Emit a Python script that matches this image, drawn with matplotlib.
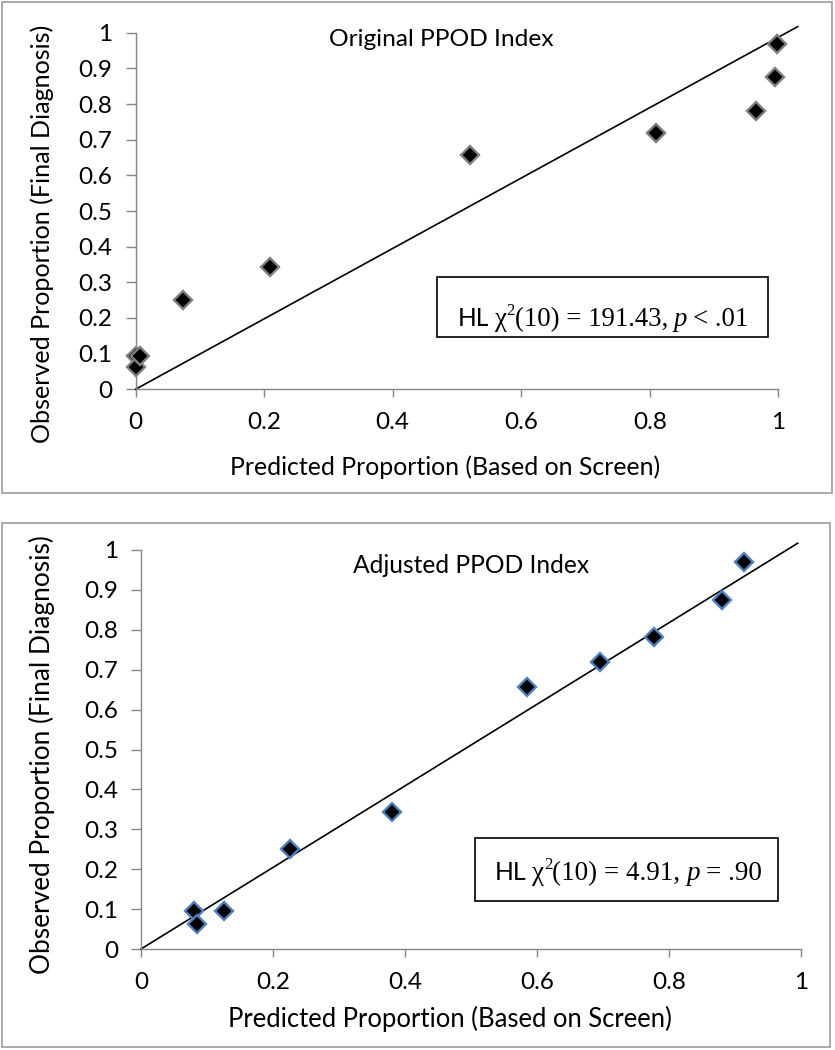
import matplotlib
matplotlib.use("Agg")
import matplotlib.pyplot as plt
from matplotlib.patches import Rectangle

# ---------------- data ----------------
orig_pred = [0.000, 0.000, 0.007, 0.074, 0.209, 0.520, 0.810, 0.965, 0.994, 0.998]
orig_obs = [0.094, 0.0625, 0.094, 0.250, 0.344, 0.656, 0.719, 0.781, 0.875, 0.969]

adj_pred = [0.080, 0.085, 0.126, 0.225, 0.381, 0.585, 0.695, 0.778, 0.881, 0.914]
adj_obs = [0.094, 0.0625, 0.094, 0.250, 0.344, 0.656, 0.719, 0.781, 0.875, 0.969]

orig_ref_x = [0.0, 1.03]
orig_ref_y = [0.0, 1.017]
adj_ref_x = [0.0, 0.995]
adj_ref_y = [0.0, 1.017]

x_ticks = [0, 0.2, 0.4, 0.6, 0.8, 1]
x_ticklabels = ["0", "0.2", "0.4", "0.6", "0.8", "1"]
y_ticks = [0, 0.1, 0.2, 0.3, 0.4, 0.5, 0.6, 0.7, 0.8, 0.9, 1]
y_ticklabels = ["0", "0.1", "0.2", "0.3", "0.4", "0.5", "0.6", "0.7", "0.8", "0.9", "1"]

titles = ["Original PPOD Index", "Adjusted PPOD Index"]
xlabel = "Predicted Proportion (Based on Screen)"
ylabel = "Observed Proportion (Final Diagnosis)"
stat_values = ["191.43,", "4.91,"]
stat_tails = ["< .01", "= .90"]

# ---------------- style ----------------
SANS = ["Lato", "DejaVu Sans"]
SERIF = ["Liberation Serif", "DejaVu Serif"]
plt.rcParams["font.family"] = SANS

W, H = 835, 1050
fig = plt.figure(figsize=(W / 100, H / 100), dpi=100)
fig.patch.set_facecolor("white")


def fx(x):
    return x / W


def fy(y):
    return 1 - y / H


AX_GRAY = "#868686"

panels = [
    dict(pred=orig_pred, obs=orig_obs, rx=orig_ref_x, ry=orig_ref_y,
         x0=135.5, x1=778.4, y0=389.3, y1=32.7, xmax=1.04, ymax=1.045,
         edge="#7f7f7f", border=(1.5, 1.5, 832, 493),
         title=titles[0], title_xy=(441.7, 45.7), title_w=224,
         xl_xy=(445.5, 467), xl_w=431, yl_xy=(42, 234), yl_h=418,
         box=(437.3, 276.7, 768.3, 337.3), val=stat_values[0], tail=stat_tails[0],
         stat_xy=(458, 326), stat_w=290),
    dict(pred=adj_pred, obs=adj_obs, rx=adj_ref_x, ry=adj_ref_y,
         x0=141, x1=801, y0=949, y1=550, xmax=1.02, ymax=1.04,
         edge="#4F81BD", border=(1.5, 523, 830, 1047),
         title=titles[1], title_xy=(471.5, 572.7), title_w=237,
         xl_xy=(450, 1019), xl_w=444, yl_xy=(42, 755), yl_h=439,
         box=(475, 838.3, 778.3, 901), val=stat_values[1], tail=stat_tails[1],
         stat_xy=(495, 880), stat_w=266),
]

fit_items = []
stat_groups = []

for p in panels:
    # panel border
    bx0, by0, bx1, by1 = p["border"]
    fig.patches.append(Rectangle((fx(bx0), fy(by1)), fx(bx1) - fx(bx0), fy(by0) - fy(by1),
                                 transform=fig.transFigure, fill=False,
                                 edgecolor="#a3a3a3", linewidth=1.3, zorder=0))
    xspan = p["x1"] - p["x0"]
    yspan = p["y0"] - p["y1"]
    ax = fig.add_axes([fx(p["x0"]), fy(p["y0"]),
                       xspan * p["xmax"] / W, yspan * p["ymax"] / H])
    ax.set_xlim(0, p["xmax"])
    ax.set_ylim(0, p["ymax"])
    ax.patch.set_alpha(0)
    for s in ["top", "right"]:
        ax.spines[s].set_visible(False)
    for s in ["left", "bottom"]:
        ax.spines[s].set_color(AX_GRAY)
        ax.spines[s].set_linewidth(1.0)
        ax.spines[s].set_bounds(0, 1)
    ax.set_xticks(x_ticks)
    ax.set_xticklabels(x_ticklabels)
    ax.set_yticks(y_ticks)
    ax.set_yticklabels(y_ticklabels)
    ax.tick_params(axis="x", direction="out", length=6, width=1.0, color=AX_GRAY,
                   pad=10.5, labelsize=17.5, labelcolor="black")
    ax.tick_params(axis="y", direction="out", length=7, width=1.0, color=AX_GRAY,
                   pad=9.5, labelsize=17.5, labelcolor="black")

    ax.plot(p["rx"], p["ry"], color="black", linewidth=1.2, zorder=2, clip_on=False)
    ax.plot(p["pred"], p["obs"], linestyle="none", marker="D", markersize=9,
            markerfacecolor="black", markeredgecolor=p["edge"], markeredgewidth=1.7,
            zorder=3, clip_on=False)

    t = fig.text(fx(p["title_xy"][0]), fy(p["title_xy"][1]), p["title"], ha="center",
                 va="baseline", fontsize=15)
    fit_items.append((t, p["title_w"], "w"))
    t = fig.text(fx(p["xl_xy"][0]), fy(p["xl_xy"][1]), xlabel, ha="center", va="center",
                 fontsize=15)
    fit_items.append((t, p["xl_w"], "w"))
    t = fig.text(fx(p["yl_xy"][0]), fy(p["yl_xy"][1]), ylabel, ha="center", va="center",
                 rotation=90, fontsize=15)
    fit_items.append((t, p["yl_h"], "h"))

    b0, b1, b2, b3 = p["box"]
    fig.patches.append(Rectangle((fx(b0), fy(b3)), fx(b2) - fx(b0), fy(b1) - fy(b3),
                                 transform=fig.transFigure, fill=True, facecolor="white",
                                 edgecolor="black", linewidth=1.2, zorder=5))
    # statistic text built from pieces: (text, family, style, rel size, rise em, gap em)
    spec = [("HL", SANS, "normal", 0.92, 0.0, 0.0),
            ("\u03c7", SERIF, "normal", 1.0, 0.0, 0.2),
            ("2", SERIF, "normal", 0.62, 0.42, 0.0),
            ("(10) = " + p["val"], SERIF, "normal", 1.0, 0.0, 0.0),
            ("p", SERIF, "italic", 1.0, 0.0, 0.22),
            (p["tail"], SERIF, "normal", 1.0, 0.0, 0.2)]
    pieces = []
    for txt, fam, sty, rel, rise, gap in spec:
        tt = fig.text(0, 0, txt, family=fam, style=sty, ha="left", va="baseline",
                      fontsize=17, zorder=6)
        pieces.append((tt, rel, rise, gap))
    stat_groups.append((pieces, p["stat_xy"], p["stat_w"]))


def place(pieces, x0, base, size, renderer):
    x = x0
    em = size * 100 / 72
    for tt, rel, rise, gap in pieces:
        x += gap * em
        tt.set_fontsize(size * rel)
        tt.set_position((fx(x), fy(base - rise * em)))
        x += tt.get_window_extent(renderer).width
    return x - x0


fig.canvas.draw()
r = fig.canvas.get_renderer()
for pieces, (sx, sy), target in stat_groups:
    size = 17.0
    for _ in range(3):
        w = place(pieces, sx, sy, size, r)
        size *= target / w
    place(pieces, sx, sy, size, r)

# fit text sizes to the measured widths
for _ in range(2):
    fig.canvas.draw()
    r = fig.canvas.get_renderer()
    for t, target, mode in fit_items:
        bb = t.get_window_extent(r)
        cur = bb.width if mode == "w" else bb.height
        if cur > 0:
            t.set_fontsize(t.get_fontsize() * target / cur)

fig.savefig("out.png", dpi=100, facecolor="white")
